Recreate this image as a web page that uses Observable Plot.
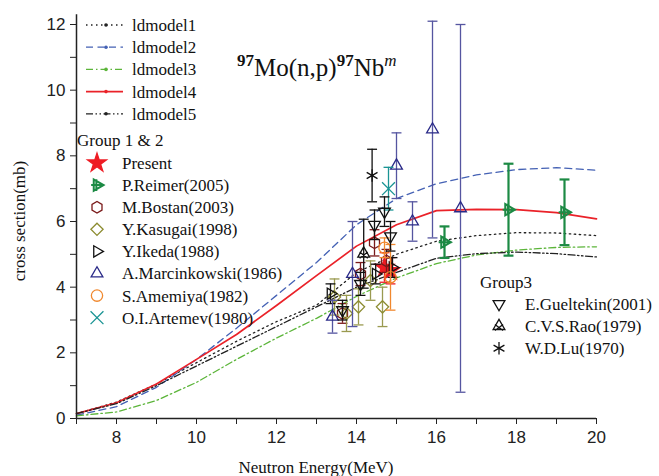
<!DOCTYPE html>
<html>
<head>
<meta charset="utf-8">
<script src="https://cdn.jsdelivr.net/npm/d3@7"></script>
<script src="https://cdn.jsdelivr.net/npm/@observablehq/plot@0.6"></script>
<style>
  html, body { margin: 0; padding: 0; background: #fff; }
  #chart { position: relative; width: 659px; height: 476px; }
</style>
</head>
<body>
<div id="chart"></div>
<script>
// Neutron energy grid (MeV) for the level-density model curves
const energies = [7, 8, 9, 10, 11, 12, 13, 14, 15, 16, 17, 18, 19, 20];

// Calculated cross sections (mb) for five level-density models
const ldmodel1 = [0.15, 0.50, 1.05, 1.70, 2.35, 2.95, 3.45, 4.45, 5.00, 5.40, 5.57, 5.66, 5.65, 5.57];
const ldmodel2 = [0.10, 0.36, 0.95, 1.80, 2.75, 3.75, 4.75, 5.90, 6.70, 7.15, 7.42, 7.58, 7.64, 7.56];
const ldmodel3 = [0.08, 0.20, 0.55, 1.10, 1.80, 2.45, 3.05, 3.72, 4.28, 4.72, 4.98, 5.13, 5.21, 5.23];
const ldmodel4 = [0.15, 0.48, 1.05, 1.80, 2.56, 3.44, 4.35, 5.25, 5.90, 6.33, 6.37, 6.36, 6.27, 6.08];
const ldmodel5 = [0.15, 0.45, 1.00, 1.60, 2.20, 2.80, 3.40, 4.00, 4.45, 4.88, 5.02, 5.07, 5.02, 4.92];

// Measurements: [energy (MeV), cross section (mb), uncertainty (mb)]
const present       = [[14.7, 4.6, 0.45], [14.85, 4.5, 0.4]];
const reimer        = [[16.2, 5.37, 0.48], [17.8, 6.36, 1.4], [19.2, 6.28, 1.0]];
const bostan        = [[13.65, 3.2, 0.3], [14.1, 4.4, 0.35], [14.45, 5.35, 0.4], [14.75, 4.8, 0.35]];
const kasugai       = [[13.45, 3.7, 0.55], [13.75, 3.2, 0.55], [14.05, 3.4, 0.55], [14.35, 4.2, 0.6], [14.65, 3.4, 0.6]];
const ikeda         = [[13.35, 3.8, 0.3], [14.48, 4.4, 0.3], [14.9, 4.6, 0.3]];
const marcinkowski  = [[13.4, 3.1, 0.5], [13.9, 4.4, 1.6], [15.0, 7.7, 1.0], [15.4, 6.0, 0.6], [15.9, 8.8, 3.3], [16.6, 6.4, 5.6]];
const amemiya       = [[14.7, 5.2, 0.3], [14.85, 4.3, 1.0]];
const artemev       = [[14.8, 7.0, 0.65]];
const gueltekin     = [[13.65, 3.3, 0.3], [14.1, 4.1, 0.35], [14.45, 5.9, 0.45], [14.7, 6.3, 0.45], [14.85, 5.55, 0.45]];
const rao           = [[14.18, 5.02, 1.05]];
const lu            = [[14.39, 7.4, 0.8]];

// Axis ticks
const xTicks = d3.range(7, 21, 1);
const yTicks = d3.range(0, 13, 1);

const SERIF = "font-family: 'Liberation Serif', 'Times New Roman', Times, serif";

// --- marker shapes shared by the plot and the legends ---
function polygon(ctx, r, n, start) {
  for (let i = 0; i < n; ++i) {
    const a = start + i * 2 * Math.PI / n;
    const px = r * Math.cos(a), py = r * Math.sin(a);
    if (i === 0) ctx.moveTo(px, py); else ctx.lineTo(px, py);
  }
  ctx.closePath();
}
const triangleOf = start => ({draw(ctx, size) { polygon(ctx, Math.sqrt(size) * 0.62, 3, start); }});
const triUp = triangleOf(-Math.PI / 2);
const triDown = triangleOf(Math.PI / 2);
const triRight = triangleOf(0);
const hexagon = {draw(ctx, size) { polygon(ctx, Math.sqrt(size) * 0.55, 6, Math.PI / 6); }};
const triRightPlus = {draw(ctx, size) {
  const r = Math.sqrt(size) * 0.62;
  polygon(ctx, r, 3, 0);
  ctx.moveTo(-r * 0.9, 0); ctx.lineTo(r * 1.1, 0);
  ctx.moveTo(-r * 0.1, -r * 0.9); ctx.lineTo(-r * 0.1, r * 0.9);
}};
const triUpTimes = {draw(ctx, size) {
  const r = Math.sqrt(size) * 0.62;
  polygon(ctx, r, 3, -Math.PI / 2);
  const s = r * 0.6;
  ctx.moveTo(-s, -s * 0.4); ctx.lineTo(s, s * 1.1);
  ctx.moveTo(s, -s * 0.4); ctx.lineTo(-s, s * 1.1);
}};
const cap = {draw(ctx, size) { const w = Math.sqrt(size) / 2; ctx.moveTo(-w, 0); ctx.lineTo(w, 0); }};

// Series styles
const models = [
  {name: "ldmodel1", values: ldmodel1, stroke: "#222", dash: "1.5,3.5", width: 1.3},
  {name: "ldmodel2", values: ldmodel2, stroke: "#4461b4", dash: "7,4.5", width: 1.3},
  {name: "ldmodel3", values: ldmodel3, stroke: "#5cb53a", dash: "7,3,1.5,3", width: 1.3},
  {name: "ldmodel4", values: ldmodel4, stroke: "#ea2229", dash: null, width: 1.7},
  {name: "ldmodel5", values: ldmodel5, stroke: "#222", dash: "7,2.5,1.5,2.5,1.5,2.5", width: 1.3}
];

const group12 = [
  {name: "Present", data: present, color: "#ee1c24", symbol: d3.symbolStar, fill: true, size: 110, bar: "#ee1c24"},
  {name: "P.Reimer(2005)", data: reimer, color: "#1c8a44", symbol: triRightPlus, size: 110, bar: "#1c8a44", barWidth: 2.2, markWidth: 2},
  {name: "M.Bostan(2003)", data: bostan, color: "#7a1a1a", symbol: hexagon, size: 110, bar: "#7a1a1a"},
  {name: "Y.Kasugai(1998)", data: kasugai, color: "#8c8c30", symbol: d3.symbolDiamond2, size: 95, bar: "#9a9a50"},
  {name: "Y.Ikeda(1988)", data: ikeda, color: "#111", symbol: triRight, size: 110, bar: "#111"},
  {name: "A.Marcinkowski(1986)", data: marcinkowski, color: "#2a2a88", symbol: triUp, size: 120, bar: "#5555a0"},
  {name: "S.Amemiya(1982)", data: amemiya, color: "#f0882e", symbol: d3.symbolCircle, size: 100, bar: "#f0882e"},
  {name: "O.I.Artemev(1980)", data: artemev, color: "#1a9494", symbol: d3.symbolTimes, size: 110, bar: "#1a9494"}
];

const group3 = [
  {name: "E.Gueltekin(2001)", data: gueltekin, color: "#111", symbol: triDown, size: 120, bar: "#111"},
  {name: "C.V.S.Rao(1979)", data: rao, color: "#111", symbol: triUpTimes, size: 120, bar: "#111"},
  {name: "W.D.Lu(1970)", data: lu, color: "#111", symbol: d3.symbolAsterisk, size: 110, bar: "#111"}
];

const modelRows = models.flatMap(m => energies.map((e, i) => ({model: m.name, x: e, y: m.values[i]})));

function seriesMarks(s) {
  const rows = s.data.map(([x, y, e]) => ({x, y, lo: y - e, hi: y + e}));
  const bw = s.barWidth || 1.3;
  return [
    Plot.ruleX(rows, {x: "x", y1: "lo", y2: "hi", stroke: s.bar, strokeWidth: bw}),
    Plot.dot(rows, {x: "x", y: "lo", symbol: cap, r: 5.6, stroke: s.bar, strokeWidth: bw}),
    Plot.dot(rows, {x: "x", y: "hi", symbol: cap, r: 5.6, stroke: s.bar, strokeWidth: bw}),
    Plot.dot(rows, {
      x: "x", y: "y", symbol: s.symbol, r: Math.sqrt(s.size / Math.PI),
      stroke: s.color, fill: s.fill ? s.color : "white", fillOpacity: s.fill ? 1 : 0,
      strokeWidth: s.markWidth || 1.3
    })
  ];
}

const chart = Plot.plot({
  width: 659,
  height: 476,
  marginLeft: 76,
  marginRight: 63,
  marginTop: 24,
  marginBottom: 58,
  style: {fontFamily: "'Liberation Sans', Arial, sans-serif", fontSize: "17px", background: "white", color: "#222"},
  x: {domain: [7, 20], label: null},
  y: {domain: [0, 12], label: null},
  marks: [
    ...models.map(m => Plot.line(modelRows.filter(d => d.model === m.name), {
      x: "x", y: "y", curve: "linear",
      stroke: m.stroke, strokeWidth: m.width, strokeDasharray: m.dash
    })),
    ...group12.flatMap(seriesMarks),
    ...group3.flatMap(seriesMarks),
    Plot.ruleY([0], {stroke: "#222", strokeWidth: 1.5}),
    Plot.ruleX([7], {y1: 0, y2: 12.3, stroke: "#222", strokeWidth: 1.5, clip: false}),
    Plot.axisX({ticks: xTicks, tickSize: 6, tickPadding: 6, stroke: "#222",
      tickFormat: d => d % 2 === 0 ? String(d) : "", fontSize: 17}),
    Plot.axisY({ticks: yTicks, tickSize: 6, tickPadding: 5, stroke: "#222",
      tickFormat: d => d % 2 === 0 ? String(d) : "", fontSize: 17})
  ]
});

document.getElementById("chart").appendChild(chart);

// --- axis titles, chart title and legends drawn on top of the plot ---
const svg = d3.select(chart);
const addText = (parent, x, y, s, size) => parent.append("text")
  .attr("x", x).attr("y", y).attr("dy", "0.35em").attr("text-anchor", "start")
  .attr("style", `${SERIF}; font-size: ${size}px`).attr("fill", "#111").text(s);

svg.append("text").attr("transform", "translate(19,221) rotate(-90)")
  .attr("text-anchor", "middle").attr("dy", "0.35em")
  .attr("style", `${SERIF}; font-size: 17px`).attr("fill", "#111").text("cross section(mb)");
svg.append("text").attr("x", 316).attr("y", 467)
  .attr("text-anchor", "middle").attr("dy", "0.35em")
  .attr("style", `${SERIF}; font-size: 17px`).attr("fill", "#111").text("Neutron Energy(MeV)");

const title = svg.append("text")
  .attr("x", 237).attr("y", 76).attr("text-anchor", "start")
  .attr("style", `${SERIF}; font-size: 25px`).attr("fill", "#111");
const sup = `${SERIF}; font-size: 17px`;
title.append("tspan").attr("style", sup).attr("font-weight", "bold").attr("dy", -10).text("97");
title.append("tspan").attr("dy", 10).text("Mo(n,p)");
title.append("tspan").attr("style", sup).attr("font-weight", "bold").attr("dy", -10).text("97");
title.append("tspan").attr("dy", 10).text("Nb");
title.append("tspan").attr("style", sup).attr("font-style", "italic").attr("dy", -10).text("m");

// line legend
const lineLegend = svg.append("g");
models.forEach((m, i) => {
  const y = 25 + i * 22.2;
  lineLegend.append("line").attr("x1", 86).attr("x2", 123).attr("y1", y).attr("y2", y)
    .attr("stroke", m.stroke).attr("stroke-width", m.width).attr("stroke-dasharray", m.dash);
  lineLegend.append("circle").attr("cx", 106).attr("cy", y).attr("r", 1.8).attr("fill", m.stroke);
  addText(lineLegend, 132, y, m.name, 17);
});

function symbolLegend(items, header, hx, hy, sx, tx, y0) {
  const g = svg.append("g");
  addText(g, hx, hy, header, 17);
  items.forEach((s, i) => {
    const y = y0 + i * 22.1;
    g.append("path").attr("transform", `translate(${sx},${y})`)
      .attr("d", d3.symbol(s.symbol, s.size)())
      .attr("fill", s.fill ? s.color : "none").attr("stroke", s.color)
      .attr("stroke-width", s.markWidth || 1.3);
    addText(g, tx, y, s.name, 17);
  });
}
symbolLegend(group12, "Group 1 & 2", 77, 140, 97, 122, 163);
symbolLegend(group3, "Group3", 480, 282, 499, 525, 304);
</script>
</body>
</html>
